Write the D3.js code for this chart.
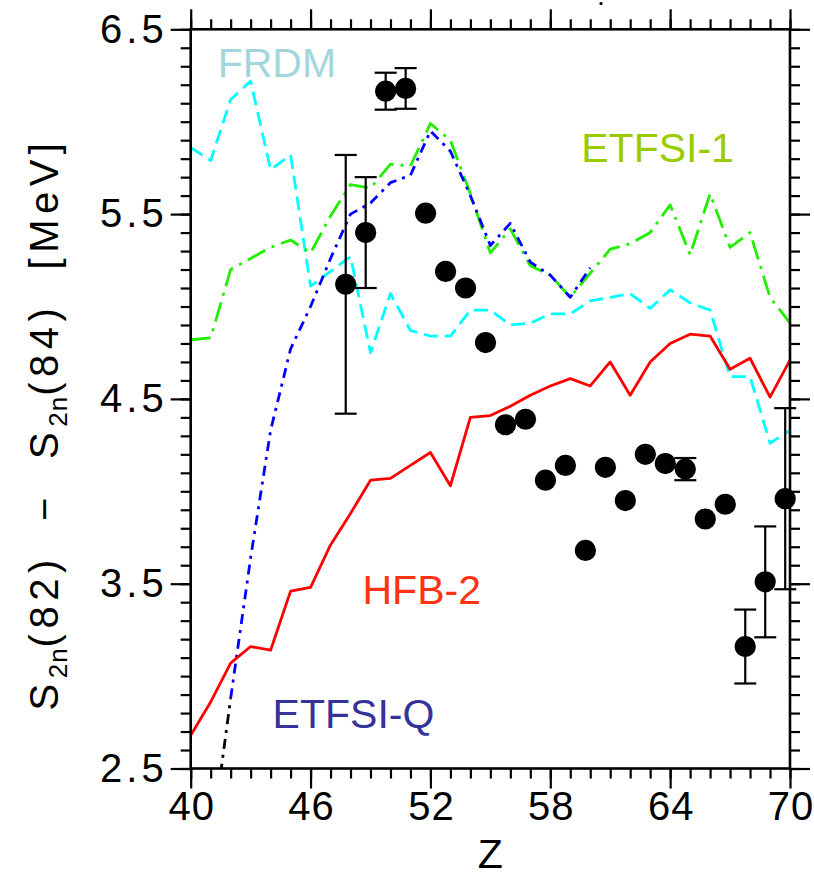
<!DOCTYPE html>
<html><head><meta charset="utf-8">
<script src="https://cdn.jsdelivr.net/npm/d3@7"></script>
<style>body{margin:0;background:#fff}</style>
</head><body>
<svg id="c" width="814" height="877"></svg>
<script>
// ---------- data ----------
const zModel = [40,41,42,43,44,45,46,47,48,49,50,51,52,53,54,55,56,57,58,59,60,61,62,63,64,65,66,67,68,69,70];
const hfb2   = [2.68,2.86,3.07,3.16,3.14,3.46,3.48,3.71,3.88,4.06,4.07,4.14,4.21,4.03,4.40,4.41,4.46,4.52,4.57,4.61,4.57,4.70,4.52,4.70,4.80,4.85,4.84,4.66,4.72,4.51,4.71];
const frdm   = [5.86,5.79,6.12,6.22,5.74,5.82,5.11,5.19,5.27,4.75,5.07,4.87,4.84,4.84,4.98,4.98,4.90,4.91,4.96,4.96,5.03,5.05,5.07,4.99,5.09,5.02,4.98,4.62,4.62,4.26,4.33];
const etfsi1 = [4.82,4.83,5.20,5.26,5.32,5.36,5.29,5.49,5.66,5.64,5.77,5.76,5.99,5.90,5.61,5.29,5.42,5.22,5.17,5.05,5.18,5.31,5.34,5.40,5.55,5.28,5.61,5.32,5.40,5.05,4.91];
const zQ     = [42,43,44,45,46,47,48,49,50,51,52,53,54,55,56,57,58,59,60];
const etfsiQ = [2.88,3.64,4.33,4.77,5.00,5.26,5.50,5.56,5.67,5.71,5.95,5.84,5.60,5.33,5.45,5.24,5.17,5.05,5.21];
const zQlow  = [41,42];
const etfsiQlow = [2.07,2.88];
const zExp   = [47.76,48.76,49.76,50.76,51.76,52.76,53.76,54.76,55.76,56.76,57.76,58.76,59.76,60.76,61.76,62.76,63.76,64.76,65.76,66.76,67.76,68.76,69.76];
const sExp   = [5.12,5.40,6.165,6.18,5.505,5.19,5.10,4.805,4.36,4.39,4.06,4.14,3.68,4.13,3.95,4.20,4.15,4.12,3.85,3.93,3.16,3.51,3.96];
const eExp   = [0.70,0.30,0.10,0.11,0,0,0,0,0,0,0,0,0,0,0,0,0,0.06,0,0,0.20,0.30,0.49];
const xMajor = [40,46,52,58,64,70];
const xMinor = [40,41,42,43,44,45,46,47,48,49,50,51,52,53,54,55,56,57,58,59,60,61,62,63,64,65,66,67,68,69,70];
const yMajor = [6.5,5.5,4.5,3.5,2.5];
const yMinor = [2.5,2.6,2.7,2.8,2.9,3.0,3.1,3.2,3.3,3.4,3.5,3.6,3.7,3.8,3.9,4.0,4.1,4.2,4.3,4.4,4.5,4.6,4.7,4.8,4.9,5.0,5.1,5.2,5.3,5.4,5.5,5.6,5.7,5.8,5.9,6.0,6.1,6.2,6.3,6.4,6.5];
const labels = [
  {text:"FRDM",    z:41.35, v:6.24, color:"#a3d6dc"},
  {text:"ETFSI-1", z:59.55, v:5.78, color:"#99cc00"},
  {text:"HFB-2",   z:48.6,  v:3.39, color:"#ff3311"},
  {text:"ETFSI-Q", z:44.1,  v:2.72, color:"#333399"}
];

// ---------- layout ----------
const L=190.7, R=790, T=29.3, B=768.5;
const svg = d3.select("#c");
const x = d3.scaleLinear().domain([40,70]).range([L,R]);
const y = d3.scaleLinear().domain([2.5,6.5]).range([B,T]);
const FONT = "'Liberation Sans', Arial, Helvetica, sans-serif";

svg.append("defs").append("clipPath").attr("id","clip")
  .append("rect").attr("x",L).attr("y",T).attr("width",R-L).attr("height",B-T);

// ---------- model lines ----------
function drawLine(zs, vs, color, dash, width){
  const pts = zs.map((z,i)=>[z,vs[i]]);
  svg.append("path").datum(pts)
    .attr("clip-path","url(#clip)")
    .attr("fill","none").attr("stroke",color).attr("stroke-width",width)
    .attr("stroke-dasharray",dash).attr("stroke-linejoin","round")
    .attr("d", d3.line().x(d=>x(d[0])).y(d=>y(d[1])));
}
drawLine(zModel, frdm,   "#00ffff", "14,7", 2.8);
drawLine(zModel, etfsi1, "#22ee00", "20,7,3,7", 2.8);
drawLine(zQ,     etfsiQ, "#0000ff", "10,6,3,6", 2.8);
drawLine(zQlow,  etfsiQlow, "#000000", "10,6,3,6", 2.8);
drawLine(zModel, hfb2,   "#ff0000", null, 2.8);

// ---------- experimental points ----------
const exp = zExp.map((z,i)=>({z, s:sExp[i], e:eExp[i]}));
const eb = svg.append("g").attr("stroke","#000").attr("stroke-width",2.2);
exp.filter(d=>d.e>0).forEach(d=>{
  eb.append("line").attr("x1",x(d.z)).attr("x2",x(d.z)).attr("y1",y(d.s-d.e)).attr("y2",y(d.s+d.e));
  [d.s-d.e, d.s+d.e].forEach(v=>eb.append("line")
    .attr("x1",x(d.z)-11).attr("x2",x(d.z)+11).attr("y1",y(v)).attr("y2",y(v)));
});
svg.append("g").selectAll("circle").data(exp).join("circle")
  .attr("cx",d=>x(d.z)).attr("cy",d=>y(d.s)).attr("r",10.6).attr("fill","#000");

// ---------- frame & axes ----------
svg.append("rect").attr("x",L).attr("y",T).attr("width",R-L).attr("height",B-T)
  .attr("fill","none").attr("stroke","#000").attr("stroke-width",2.6);

function styleAxis(g){
  g.select(".domain").remove();
  g.selectAll(".tick line").attr("stroke","#000").attr("stroke-width",2.2);
  g.selectAll("text").attr("fill","#000").attr("font-family",FONT).attr("font-size",40);
}
const noLab = ()=>"";
// bottom
svg.append("g").attr("transform",`translate(0,${B})`)
  .call(d3.axisBottom(x).tickValues(xMinor).tickSize(10).tickFormat(noLab)).call(styleAxis);
svg.append("g").attr("transform",`translate(0,${B})`)
  .call(d3.axisBottom(x).tickValues(xMajor).tickSize(20).tickPadding(3).tickFormat(d3.format("d"))).call(styleAxis)
  .selectAll("text").attr("letter-spacing","1px").attr("dx","0.5px");
// top
svg.append("g").attr("transform",`translate(0,${T})`)
  .call(d3.axisTop(x).tickValues(xMinor).tickSize(10).tickFormat(noLab)).call(styleAxis);
svg.append("g").attr("transform",`translate(0,${T})`)
  .call(d3.axisTop(x).tickValues(xMajor).tickSize(20).tickFormat(noLab)).call(styleAxis);
// left
svg.append("g").attr("transform",`translate(${L},0)`)
  .call(d3.axisLeft(y).tickValues(yMinor).tickSize(10).tickFormat(noLab)).call(styleAxis);
svg.append("g").attr("transform",`translate(${L},0)`)
  .call(d3.axisLeft(y).tickValues(yMajor).tickSize(20).tickPadding(3).tickFormat(d3.format(".1f"))).call(styleAxis)
  .selectAll("text").attr("letter-spacing","4px");
// right
svg.append("g").attr("transform",`translate(${R},0)`)
  .call(d3.axisRight(y).tickValues(yMinor).tickSize(10).tickFormat(noLab)).call(styleAxis);
svg.append("g").attr("transform",`translate(${R},0)`)
  .call(d3.axisRight(y).tickValues(yMajor).tickSize(20).tickFormat(noLab)).call(styleAxis);

// small mark above top axis
svg.append("circle").attr("cx",601).attr("cy",3.5).attr("r",1.6).attr("fill","#000");

// ---------- axis titles ----------
svg.append("text").attr("x",(L+R)/2).attr("y",868).attr("text-anchor","middle")
  .attr("font-family",FONT).attr("font-size",41).text("Z");

const yt = svg.append("text").attr("transform","translate(58,424) rotate(-90)")
  .attr("text-anchor","middle").attr("font-family",FONT).attr("font-size",40)
  .attr("letter-spacing","5.5px").attr("xml:space","preserve");
yt.append("tspan").text("S");
yt.append("tspan").attr("font-size",26).attr("dy",9).attr("letter-spacing","1px").text("2n");
yt.append("tspan").attr("dy",-9).text("(82)  \u2212  S");
yt.append("tspan").attr("font-size",26).attr("dy",9).attr("letter-spacing","1px").text("2n");
yt.append("tspan").attr("dy",-9).text("(84)  [MeV]");

// ---------- model labels ----------
svg.append("g").selectAll("text").data(labels).join("text")
  .attr("x",d=>x(d.z)).attr("y",d=>y(d.v))
  .attr("font-family",FONT).attr("font-size",41)
  .attr("fill",d=>d.color).text(d=>d.text);
</script>
</body></html>
